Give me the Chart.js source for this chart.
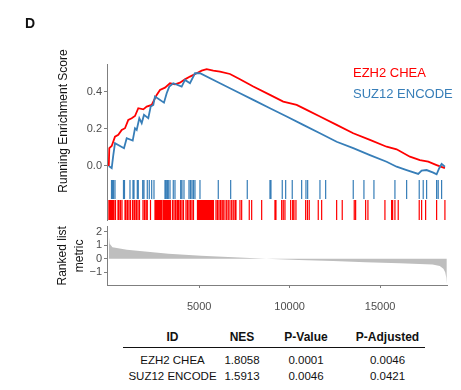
<!DOCTYPE html>
<html>
<head>
<meta charset="utf-8">
<script src="https://cdn.jsdelivr.net/npm/chart.js@4.4.1/dist/chart.umd.min.js"></script>
<style>
  body { margin: 0; background: #fff; font-family: "Liberation Sans", Arial, sans-serif; }
  #wrap { position: relative; width: 461px; height: 390px; overflow: hidden; }
  #wrap canvas { position: absolute; left: 0; }
  .tag { position: absolute; left: 25px; top: 16px; font-size: 14px; font-weight: bold; line-height: 1; color: #111; }
  .key { position: absolute; left: 353px; font-size: 13px; line-height: 1; }
  #stats { position: absolute; left: 123px; top: 326px; border-collapse: separate; border-spacing: 0; color: #111; }
  #stats th { height: 21px; padding: 0; font-size: 12px; font-weight: bold; border-bottom: 1.5px solid #111; }
  #stats td { height: 16px; line-height: 16px; padding: 0; font-size: 11.5px; text-align: center; white-space: nowrap; }
  #stats tbody tr:first-child td { padding-top: 4px; }
</style>
</head>
<body>
<div id="wrap">
  <canvas id="esChart" width="461" height="205" style="top:0"></canvas>
  <canvas id="hitChart" width="461" height="43" style="top:178px"></canvas>
  <canvas id="metricChart" width="461" height="100" style="top:218px"></canvas>
  <div class="tag">D</div>
  <div class="key" style="top:66px;color:#ff0000">EZH2 CHEA</div>
  <div class="key" style="top:87px;color:#377eb8">SUZ12 ENCODE</div>
  <table id="stats">
    <colgroup><col style="width:99px"><col style="width:40px"><col style="width:88px"><col style="width:75px"></colgroup>
    <thead><tr><th>ID</th><th>NES</th><th>P-Value</th><th>P-Adjusted</th></tr></thead>
    <tbody></tbody>
  </table>
</div>
<script>
// axis ticks
const xTicks = [5000, 10000, 15000];
const esTicks = [0, 0.2, 0.4];
const metricTicks = [-1, 0, 1, 2];

// running enrichment score
const ezh2Rank = [0, 27, 160, 342, 525, 713, 895, 1077, 1265, 1448, 1630, 1907, 2095, 2371, 2647, 2830, 3106, 3383, 3659, 3935, 4212, 4488, 4858, 5135, 5411, 5776, 6147, 6699, 7252, 7988, 8911, 9646, 10387, 10940, 11675, 12598, 13516, 14438, 15361, 15914, 16650, 17203, 17664, 18126, 18585];
const ezh2Es = [0, 0.096, 0.108, 0.158, 0.168, 0.195, 0.204, 0.249, 0.258, 0.27, 0.312, 0.306, 0.321, 0.33, 0.384, 0.411, 0.423, 0.447, 0.441, 0.45, 0.468, 0.483, 0.501, 0.515, 0.523, 0.515, 0.51, 0.497, 0.469, 0.429, 0.384, 0.348, 0.33, 0.303, 0.267, 0.222, 0.177, 0.141, 0.104, 0.09, 0.05, 0.032, 0.023, 0.005, -0.012];
const suz12Rank = [0, 160, 248, 342, 840, 989, 1321, 1448, 1542, 1686, 1818, 1945, 2183, 2316, 2460, 2553, 3051, 3200, 3344, 3565, 4029, 4212, 4488, 4765, 5041, 6147, 7252, 7988, 8911, 9834, 10751, 11675, 12598, 13516, 14438, 15361, 15914, 16468, 17110, 17297, 17573, 17941, 18126, 18270, 18402, 18585];
const suz12Es = [0, -0.012, 0.059, 0.123, 0.096, 0.15, 0.137, 0.204, 0.195, 0.258, 0.231, 0.276, 0.258, 0.321, 0.33, 0.375, 0.342, 0.393, 0.429, 0.447, 0.429, 0.465, 0.447, 0.501, 0.501, 0.447, 0.393, 0.357, 0.312, 0.267, 0.222, 0.177, 0.131, 0.096, 0.059, 0.023, -0.004, -0.022, -0.043, -0.025, -0.022, -0.036, -0.045, -0.012, 0.011, -0.004];

// gene set hit positions (rank)
const ezh2Hits = [5, 30, 66, 121, 176, 232, 287, 370, 508, 563, 646, 729, 895, 950, 1033, 1116, 1199, 1310, 1393, 1448, 1531, 1614, 1697, 1890, 1973, 2056, 2128, 2305,
  2553, 2609, 2664, 2719, 2775, 2830, 2885, 2941, 3024, 3079, 3134, 3189, 3244, 3300, 3355, 3410, 3521, 3604, 3687, 3770, 3825, 3880, 3963, 4046, 4129,
  4267, 4350, 4433, 4516, 4599, 4682, 4903, 4958, 5013, 5069, 5124, 5179, 5235, 5290, 5345, 5400, 5456, 5511, 5566, 5622, 5677, 5732, 5787,
  5926, 6008, 6091, 6174, 6257, 6329, 6423, 6517, 6606, 6699, 6793, 6882, 6976, 7031, 7252, 7346, 7766, 7899, 8452, 9187, 9242, 9557, 9646, 9740,
  10055, 10166, 10238, 10348, 10884, 10984, 11083, 11581, 11769, 12598, 12907, 13571, 13648, 14201, 14328, 15268, 15638, 15694, 15821, 16003,
  17164, 17297, 17518, 18126, 18585];
const suz12Hits = [149, 204, 259, 342, 812, 867, 1171, 1337, 1393, 1575, 1630, 1873, 1945, 2128, 2238, 2371, 2498, 3106, 3162, 3233, 3289, 3383, 3565, 3659,
  3974, 4046, 4157, 4433, 4516, 4599, 4682, 4765, 5041, 6053, 6738, 7656, 8911, 8966, 9591, 9779, 10143, 10663, 10901, 10995, 11675, 11990,
  13516, 14107, 14660, 15821, 16468, 17164, 17385, 17573, 18126, 18214, 18402];

// ranked list metric
const metricRank = [0, 50, 200, 1000, 2000, 3300, 5100, 6900, 8700, 10500, 12400, 14200, 16100, 17900, 18300, 18500, 18600, 18660, 18690];
const metricValue = [1.7, 1.1, 0.85, 0.65, 0.52, 0.37, 0.22, 0.1, 0, -0.1, -0.18, -0.26, -0.34, -0.43, -0.55, -0.75, -1.0, -1.4, -1.85];

// table
const setIds = ['EZH2 CHEA', 'SUZ12 ENCODE'];
const nes = ['1.8058', '1.5913'];
const pValue = ['0.0001', '0.0046'];
const pAdjusted = ['0.0046', '0.0421'];

Chart.defaults.font.family = '"Liberation Sans", Arial, sans-serif';
Chart.defaults.font.size = 11;
Chart.defaults.color = '#4d4d4d';
Chart.defaults.animation = false;
Chart.defaults.plugins.legend.display = false;
Chart.defaults.plugins.tooltip.enabled = false;

const axisGrey = '#7f7f7f';
const X_MIN = -100, X_MAX = 18700;

function pts(xs, ys) {
    return xs.map((x, i) => ({ x: x, y: ys[i] }));
}

function hitSegments(hits, lo, hi) {
    const out = [];
    hits.forEach(r => {
        out.push({ x: r, y: lo }, { x: r, y: hi }, { x: r, y: null });
    });
    return out;
}

function hiddenX() {
    return { type: 'linear', min: X_MIN, max: X_MAX, display: false };
}

function leftAxis(extra) {
    return Object.assign({
        type: 'linear',
        afterFit: s => { s.width = 107; },
        border: { display: true, color: axisGrey, width: 1 },
        grid: { display: true, drawOnChartArea: false, color: axisGrey, tickLength: 3 },
    }, extra);
}

// Enrichment score panel
new Chart(document.getElementById('esChart'), {
    type: 'line',
    data: {
        datasets: [{
            data: pts(suz12Rank, suz12Es),
            borderColor: '#377eb8',
            borderWidth: 1.8,
            pointRadius: 0,
            tension: 0,
        }, {
            data: pts(ezh2Rank, ezh2Es),
            borderColor: '#ff0000',
            borderWidth: 1.8,
            pointRadius: 0,
            tension: 0,
        }]
    },
    options: {
        responsive: false,
        devicePixelRatio: 1,
        layout: { padding: { top: 64, right: 14, bottom: 27, left: 0 } },
        scales: {
            x: hiddenX(),
            y: leftAxis({
                min: -0.065,
                max: 0.551,
                afterBuildTicks: s => { s.ticks = esTicks.map(v => ({ value: v })); },
                ticks: { padding: 2, callback: v => v.toFixed(1) },
                title: {
                    display: true,
                    text: 'Running Enrichment Score',
                    color: '#111',
                    font: { size: 12 },
                    padding: { top: 56, bottom: 0 }
                }
            })
        }
    }
});

// Hit marks panel
new Chart(document.getElementById('hitChart'), {
    type: 'line',
    data: {
        datasets: [{
            data: hitSegments(suz12Hits, 1.1, 2.05),
            borderColor: '#377eb8',
            borderWidth: 1.2,
            pointRadius: 0,
            spanGaps: false,
        }, {
            data: hitSegments(ezh2Hits, 0.05, 1.05),
            borderColor: '#ff0000',
            borderWidth: 1.2,
            pointRadius: 0,
            spanGaps: false,
        }]
    },
    options: {
        responsive: false,
        devicePixelRatio: 1,
        layout: { padding: { top: 0, right: 14, bottom: 0, left: 0 } },
        scales: {
            x: hiddenX(),
            y: leftAxis({
                min: 0,
                max: 2.15,
                ticks: { display: false },
                grid: { display: true, drawOnChartArea: false, drawTicks: false, color: axisGrey }
            })
        }
    }
});

// Ranked list metric panel
new Chart(document.getElementById('metricChart'), {
    type: 'line',
    data: {
        datasets: [{
            data: pts(metricRank, metricValue),
            borderWidth: 0,
            borderColor: 'rgba(0,0,0,0)',
            backgroundColor: '#bebebe',
            fill: 'origin',
            pointRadius: 0,
            tension: 0,
        }]
    },
    options: {
        responsive: false,
        devicePixelRatio: 1,
        layout: { padding: { top: 8, right: 14, bottom: 5, left: 0 } },
        scales: {
            x: {
                type: 'linear',
                min: X_MIN,
                max: X_MAX,
                afterFit: s => { s.height = 28; },
                afterBuildTicks: s => { s.ticks = xTicks.map(v => ({ value: v })); },
                border: { display: true, color: axisGrey, width: 1 },
                grid: { display: true, drawOnChartArea: false, color: axisGrey, tickLength: 3 },
                ticks: { padding: 12, maxRotation: 0, callback: v => String(v) }
            },
            y: leftAxis({
                min: -1.95,
                max: 2.37,
                afterBuildTicks: s => { s.ticks = metricTicks.map(v => ({ value: v })); },
                ticks: { padding: 2, callback: v => v < 0 ? '\u2212' + Math.abs(v) : String(v) },
                title: {
                    display: true,
                    text: ['Ranked list', 'metric'],
                    color: '#111',
                    font: { size: 12, lineHeight: 1.35 },
                    padding: { top: 55, bottom: 0 }
                }
            })
        }
    }
});

// stats table
const body = document.querySelector('#stats tbody');
setIds.forEach((id, i) => {
    const tr = document.createElement('tr');
    [id, nes[i], pValue[i], pAdjusted[i]].forEach(t => {
        const td = document.createElement('td');
        td.textContent = t;
        tr.appendChild(td);
    });
    body.appendChild(tr);
});
</script>
</body>
</html>
